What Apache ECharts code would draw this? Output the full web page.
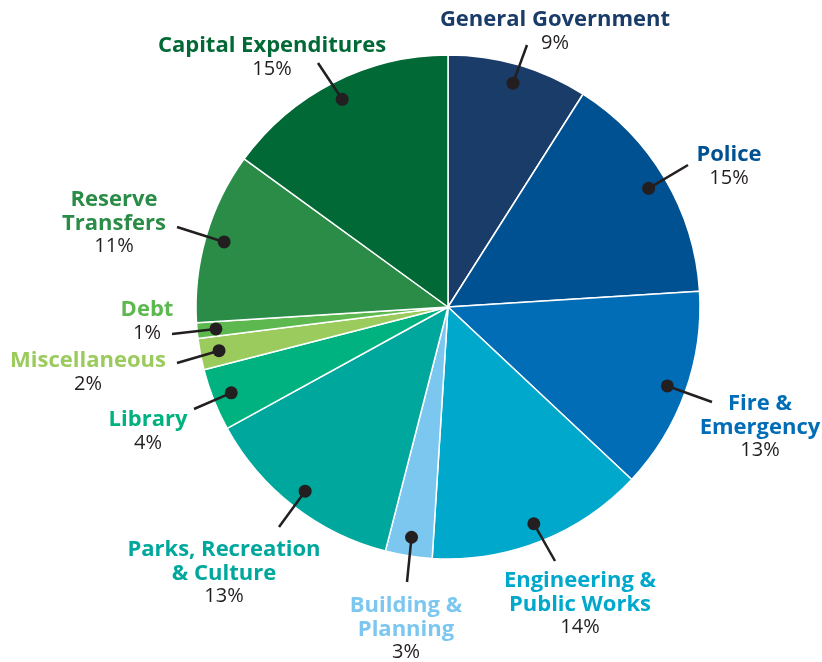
<!DOCTYPE html>
<html>
<head>
    <meta charset="utf-8"/>
    <title>Budget pie</title>
    <script src="https://cdn.jsdelivr.net/npm/echarts@6/dist/echarts.min.js"></script>
    <style>
        html, body { margin: 0; padding: 0; background: #fff; }
        #main { width: 822px; height: 662px; }
    </style>
</head>
<body>
<div id="main"></div>
<script>
    // data, clockwise from 12 o'clock
    var categories = ['General Government', 'Police', 'Fire &\nEmergency', 'Engineering &\nPublic Works',
        'Building &\nPlanning', 'Parks, Recreation\n& Culture', 'Library', 'Miscellaneous', 'Debt',
        'Reserve\nTransfers', 'Capital Expenditures'];
    var shares = [9, 15, 13, 14, 3, 13, 4, 2, 1, 11, 15];
    var colors = ['#1a3c69', '#005191', '#006db6', '#00a8cc', '#7cc7ef', '#00a79c',
        '#00b27f', '#9bcb5c', '#5cb84f', '#2a8c47', '#006935'];

    // label placement: block top-centre, then where the leader line ends
    var labelAt = [
        [555, 8, 527, 45], [729, 143, 688, 165], [760, 392, 712, 402], [580, 569, 555, 561],
        [406, 594, 407, 582], [224, 538, 279, 527], [148, 408, 194, 409], [88, 349, 177, 363],
        [147, 298, 172, 334], [114, 188, 177, 227], [272, 34, 318, 63]
    ];

    var cx = 448, cy = 307, R = 252, dotR = 0.925;
    var total = shares.reduce(function (a, b) { return a + b; }, 0);
    var mids = [], acc = 0;
    shares.forEach(function (v) { mids.push(acc + v / 2); acc += v; });

    var FONT = '"Open Sans", sans-serif';
    var rich = { p: { fontFamily: FONT, fontSize: 20, fill: '#231f20', lineHeight: 23.5, align: 'center' } };
    colors.forEach(function (c, i) {
        rich['n' + i] = { fontFamily: FONT, fontWeight: 'bold', fontSize: 22, fill: c, lineHeight: 23.5, align: 'center' };
    });

    function labelText(i) {
        var lines = categories[i].split('\n').map(function (s) { return '{n' + i + '|' + s + '}'; });
        return lines.join('\n') + '\n{p|' + shares[i] + '%}';
    }

    var myChart = echarts.init(document.getElementById('main'));
    var option = {
        animation: false,
        polar: { center: [cx, cy], radius: R },
        angleAxis: { type: 'value', min: 0, max: total, startAngle: 90, clockwise: true, show: false },
        radiusAxis: { type: 'value', min: 0, max: 1, show: false },
        series: [
            {
                type: 'pie',
                center: [cx, cy],
                radius: R,
                startAngle: 90,
                clockwise: true,
                data: categories.map(function (n, i) {
                    return { name: n, value: shares[i], itemStyle: { color: colors[i] } };
                }),
                itemStyle: { borderColor: '#fff', borderWidth: 1.5 },
                emphasis: { disabled: true },
                label: { show: false },
                labelLine: { show: false }
            },
            {
                type: 'custom',
                coordinateSystem: 'polar',
                silent: true,
                z: 5,
                data: mids.map(function (m) { return [dotR, m]; }),
                renderItem: function (params, api) {
                    var i = params.dataIndex, l = labelAt[i];
                    var d = api.coord([api.value(0), api.value(1)]);
                    return {
                        type: 'group',
                        children: [
                            {
                                type: 'line',
                                shape: { x1: d[0], y1: d[1], x2: l[2], y2: l[3] },
                                style: { stroke: '#231f20', lineWidth: 2.5 }
                            },
                            {
                                type: 'circle',
                                shape: { cx: d[0], cy: d[1], r: 6.5 },
                                style: { fill: '#231f20' }
                            },
                            {
                                type: 'text',
                                x: l[0], y: l[1],
                                style: { text: labelText(i), rich: rich, align: 'center', verticalAlign: 'top' }
                            }
                        ]
                    };
                }
            }
        ]
    };
    myChart.setOption(option);
</script>
</body>
</html>
